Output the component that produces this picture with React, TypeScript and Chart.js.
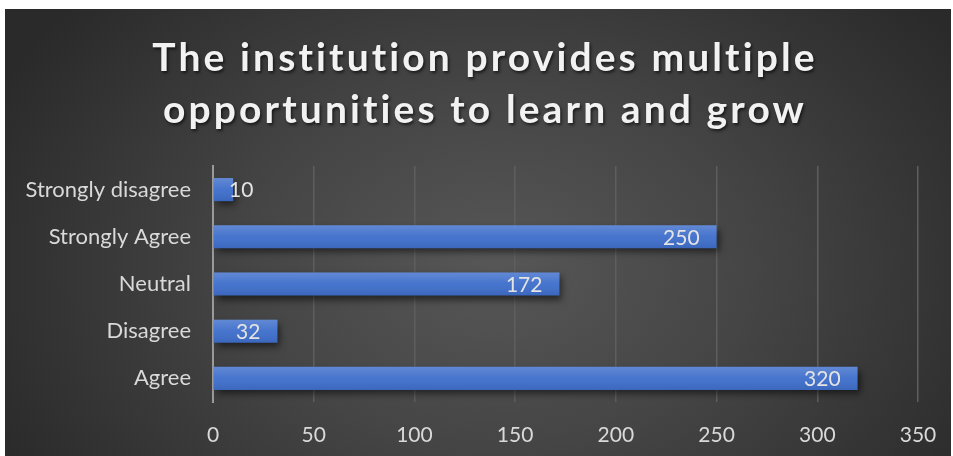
import React, { useEffect, useRef } from "react";
import { Chart, registerables } from "chart.js";

Chart.register(...registerables);

const categories = ["Strongly disagree", "Strongly Agree", "Neutral", "Disagree", "Agree"];
const values = [10, 250, 172, 32, 320];
const titleLines = ["The institution provides multiple", "opportunities to learn and grow"];
const xMin = 0;
const xMax = 350;
const xStep = 50;

const FONT = "Lato, 'Open Sans', sans-serif";

const titlePlugin = {
  id: "customTitle",
  afterDraw(chart: any) {
    const ctx = chart.ctx as CanvasRenderingContext2D;
    ctx.save();
    ctx.font = `bold 39px ${FONT}`;
    (ctx as any).letterSpacing = "3.1px";
    ctx.fillStyle = "#f2f2f2";
    ctx.textAlign = "center";
    ctx.textBaseline = "alphabetic";
    ctx.shadowColor = "rgba(0,0,0,0.6)";
    ctx.shadowBlur = 3;
    ctx.shadowOffsetX = 1.5;
    ctx.shadowOffsetY = 1.5;
    const cx = chart.width / 2 + 7;
    ctx.fillText(titleLines[0], cx, 62);
    ctx.fillText(titleLines[1], cx, 114);
    ctx.restore();
  },
};

const barStylePlugin = {
  id: "barStyle",
  beforeDatasetsDraw(chart: any) {
    const ctx = chart.ctx as CanvasRenderingContext2D;
    ctx.save();
    ctx.shadowColor = "rgba(0,0,0,0.55)";
    ctx.shadowBlur = 7;
    ctx.shadowOffsetX = 3;
    ctx.shadowOffsetY = 4;
  },
  afterDatasetsDraw(chart: any) {
    const ctx = chart.ctx as CanvasRenderingContext2D;
    ctx.restore();
    const meta = chart.getDatasetMeta(0);
    const xScale = chart.scales.x;
    const left = xScale.getPixelForValue(0);
    ctx.save();
    meta.data.forEach((el: any, i: number) => {
      const top = el.y - el.height / 2;
      const bottom = el.y + el.height / 2;
      const g = ctx.createLinearGradient(0, top, 0, bottom);
      g.addColorStop(0, "rgba(255,255,255,0.18)");
      g.addColorStop(0.5, "rgba(255,255,255,0.04)");
      g.addColorStop(1, "rgba(0,0,0,0.08)");
      ctx.fillStyle = g;
      ctx.fillRect(Math.min(el.base, el.x), top, Math.abs(el.x - el.base), el.height);
      // data label
      const txt = String(values[i]);
      ctx.font = `21px ${FONT}`;
      ctx.fillStyle = "#e4e4e4";
      ctx.textBaseline = "middle";
      const w = ctx.measureText(txt).width;
      let tx = el.x - 17 - w;
      if (tx < left + 16) tx = left + 16;
      ctx.textAlign = "left";
      ctx.fillText(txt, tx, el.y + 1);
    });
    ctx.restore();
  },
};

export default function App() {
  const ref = useRef<HTMLCanvasElement | null>(null);
  useEffect(() => {
    document.body.style.margin = "0";
    const chart = new Chart(ref.current!, {
      type: "bar",
      data: {
        labels: categories,
        datasets: [
          {
            data: values,
            backgroundColor: "#3f6fcb",
            borderWidth: 0,
            categoryPercentage: 1,
            barPercentage: 0.49,
          },
        ],
      },
      options: {
        indexAxis: "y",
        animation: false,
        responsive: false,
        maintainAspectRatio: false,
        layout: { padding: { top: 157, left: 0, right: 33, bottom: 0 } },
        plugins: {
          legend: { display: false },
          title: { display: false },
          tooltip: { enabled: false },
        },
        scales: {
          x: {
            min: xMin,
            max: xMax,
            ticks: {
              stepSize: xStep,
              color: "#d9d9d9",
              font: { family: FONT, size: 21 },
              padding: 21,
            },
            grid: { color: "#5e5e5e", lineWidth: 1.5, drawTicks: false },
            border: { display: false },
            afterFit(scale: any) {
              scale.height = 54;
              scale.paddingLeft = 0;
              scale.paddingRight = 0;
            },
          },
          y: {
            ticks: {
              color: "#d9d9d9",
              font: { family: FONT, size: 22 },
              padding: 22,
            },
            grid: { display: false, drawTicks: false },
            border: { display: true, color: "#9a9a9a", width: 2 },
            afterFit(scale: any) {
              scale.width = 208;
            },
          },
        },
      },
      plugins: [barStylePlugin, titlePlugin],
    } as any);
    return () => chart.destroy();
  }, []);
  return (
    <div
      style={{
        position: "absolute",
        left: 5,
        top: 9,
        width: 946,
        height: 447,
        background:
          "radial-gradient(ellipse 560px 400px at 52% 58%, #575757 0%, #454545 45%, #2a2a2a 100%)",
      }}
    >
      <canvas ref={ref} width={946} height={447} style={{ display: "block" }} />
    </div>
  );
}
